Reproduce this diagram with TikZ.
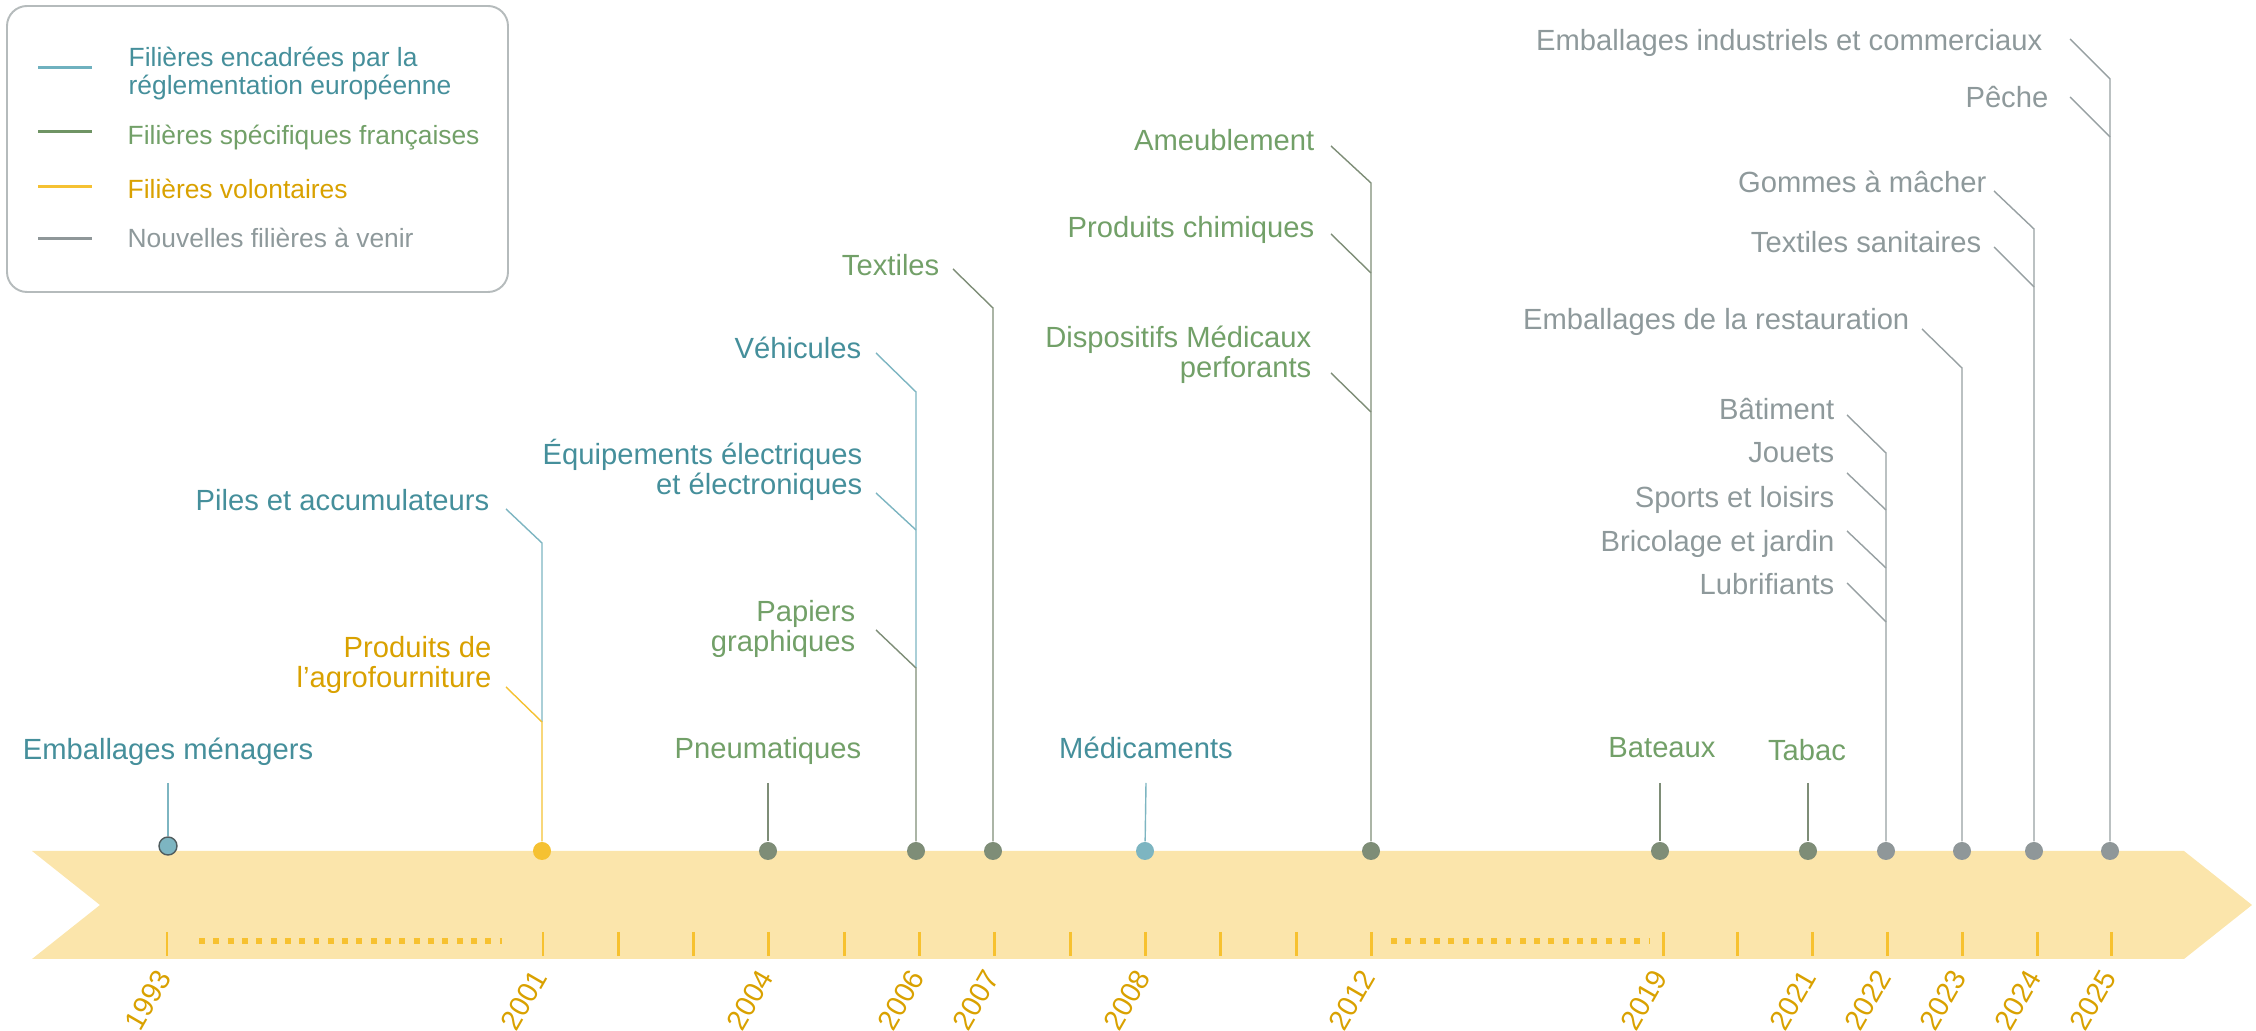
\documentclass[tikz,border=0pt]{standalone}
\usepackage{fontspec}
\setmainfont{Liberation Sans}
\usepackage{tikz}
\definecolor{euText}{HTML}{458F9B}
\definecolor{euLine}{HTML}{7DB5C1}
\definecolor{frText}{HTML}{72A068}
\definecolor{frLine}{HTML}{7E8D77}
\definecolor{volText}{HTML}{D9A100}
\definecolor{volLine}{HTML}{F5C132}
\definecolor{newText}{HTML}{8E999B}
\definecolor{newLine}{HTML}{97A0A2}
\definecolor{newDot}{HTML}{8F9799}
\definecolor{bandFill}{HTML}{FBE5AB}
\definecolor{tickCol}{HTML}{F7C12F}
\definecolor{boxCol}{HTML}{B5BBBC}
\definecolor{dotRim}{HTML}{4F5C5E}
\definecolor{legEu}{HTML}{6FB1BF}
\definecolor{legFr}{HTML}{6F9464}

\begin{document}
\begin{tikzpicture}[x=0.01cm, y=-0.01cm,
    lbl/.style={font=\fontsize{8.3}{8.8}\selectfont, inner sep=0pt, align=right},
    eulbl/.style={lbl, text=euText},
    frlbl/.style={lbl, text=frText},
    vollbl/.style={lbl, text=volText},
    newlbl/.style={lbl, text=newText},
    stem/.style={line width=0.4pt},
    eustem/.style={stem, draw=euLine},
    frstem/.style={stem, draw=frLine},
    volstem/.style={stem, draw=volLine},
    newstem/.style={stem, draw=newLine},
    dot/.style={circle, inner sep=0pt, minimum size=0.18cm},
    year/.style={font=\fontsize{8.1}{9}\selectfont, text=volText, rotate=60, anchor=east, inner sep=0pt},
    tickmark/.style={draw=tickCol, line width=0.85pt},
    gapline/.style={draw=tickCol, line width=1.7pt, dash pattern=on 1.7pt off 2.37pt},
    legtxt/.style={font=\fontsize{7.5}{8.05}\selectfont, inner sep=0pt, anchor=base west, align=left},
    legline/.style={line width=0.85pt},
]
\useasboundingbox (0,0) rectangle (2256,1031);

\draw[boxCol, line width=0.55pt, rounded corners=0.2cm] (7,6) rectangle (508,292);
\draw[legline, legEu] (38,68) -- (92,68);
\draw[legline, legFr] (38,132) -- (92,132);
\draw[legline, volLine] (38,187) -- (92,187);
\draw[legline, newDot] (38,239) -- (92,239);
\node[legtxt, text=euText] (leg-eu) at (128,95) {Filières encadrées par la\\réglementation européenne};
\node[legtxt, text=frText] (leg-fr) at (127,145) {Filières spécifiques françaises};
\node[legtxt, text=volText] (leg-vol) at (127,199) {Filières volontaires};
\node[legtxt, text=newText] (leg-new) at (127,248) {Nouvelles filières à venir};

\fill[bandFill] (32,851) -- (2184,851) -- (2252,905) -- (2184,959) -- (32,959) -- (100,905) -- cycle;
\draw[tickmark] (167,932) -- (167,956);
\foreach \i in {0,...,11} \draw[tickmark] ({543+75.3*\i},932) -- ++(0,24);
\foreach \i in {0,...,6} \draw[tickmark] ({1663+74.8*\i},932) -- ++(0,24);
\draw[gapline] (199,941) -- (502,941);
\draw[gapline] (1391,941) -- (1650,941);

\foreach \yr/\x in {1993/167, 2001/543, 2004/769, 2006/920, 2007/995, 2008/1146, 2012/1371,
    2019/1663, 2021/1812, 2022/1887, 2023/1962, 2024/2037, 2025/2112}
  \node[year] (y\yr) at ({\x-3},972) {\yr};

\node[dot, fill=euLine, draw=dotRim, line width=0.4pt] (d1993) at (168,846) {};
\node[dot, fill=volLine] (d2001) at (542,851) {};
\node[dot, fill=frLine] (d2004) at (768,851) {};
\node[dot, fill=frLine] (d2006) at (916,851) {};
\node[dot, fill=frLine] (d2007) at (993,851) {};
\node[dot, fill=euLine] (d2008) at (1145,851) {};
\node[dot, fill=frLine] (d2012) at (1371,851) {};
\node[dot, fill=frLine] (d2019) at (1660,851) {};
\node[dot, fill=frLine] (d2021) at (1808,851) {};
\node[dot, fill=newDot] (d2022) at (1886,851) {};
\node[dot, fill=newDot] (d2023) at (1962,851) {};
\node[dot, fill=newDot] (d2024) at (2034,851) {};
\node[dot, fill=newDot] (d2025) at (2110,851) {};

\node[eulbl, anchor=base] (menag) at (168,760) {Emballages ménagers};
\node[frlbl, anchor=base] (pneu) at (768,759) {Pneumatiques};
\node[eulbl, anchor=base] (medic) at (1146,759) {Médicaments};
\node[frlbl, anchor=base] (bateaux) at (1662,758) {Bateaux};
\node[frlbl, anchor=base] (tabac) at (1807,761) {Tabac};

\node[eulbl, anchor=base east] (piles) at (490,511) {Piles et accumulateurs};
\node[vollbl, anchor=base east] (agro) at (492,688) {Produits de\\l’agrofourniture};
\node[eulbl, anchor=base east] (vehic) at (862,359) {Véhicules};
\node[eulbl, anchor=base east] (equip) at (863,495) {Équipements électriques\\et électroniques};
\node[frlbl, anchor=base east] (papiers) at (856,652) {Papiers\\graphiques};
\node[frlbl, anchor=base east] (textiles) at (940,276) {Textiles};
\node[frlbl, anchor=base east] (ameub) at (1315,151) {Ameublement};
\node[frlbl, anchor=base east] (chim) at (1315,238) {Produits chimiques};
\node[frlbl, anchor=base east] (dispo) at (1312,378) {Dispositifs Médicaux\\perforants};
\node[newlbl, anchor=base east] (embind) at (2043,51) {Emballages industriels et commerciaux};
\node[newlbl, anchor=base east] (peche) at (2049,108) {Pêche};
\node[newlbl, anchor=base east] (gommes) at (1987,193) {Gommes à mâcher};
\node[newlbl, anchor=base east] (texsan) at (1982,253) {Textiles sanitaires};
\node[newlbl, anchor=base east] (embrest) at (1910,330) {Emballages de la restauration};
\node[newlbl, anchor=base east] (batim) at (1835,420) {Bâtiment};
\node[newlbl, anchor=base east] (jouets) at (1835,463) {Jouets};
\node[newlbl, anchor=base east] (sports) at (1835,508) {Sports et loisirs};
\node[newlbl, anchor=base east] (brico) at (1835,552) {Bricolage et jardin};
\node[newlbl, anchor=base east] (lubri) at (1835,595) {Lubrifiants};

\coordinate (k-piles) at (542,543);
\coordinate (k-agro) at (542,722);
\coordinate (k-vehic) at (916,392);
\coordinate (k-equip) at (916,530);
\coordinate (k-papiers) at (916,668);
\coordinate (k-textiles) at (993,308);
\coordinate (k-ameub) at (1371,183);
\coordinate (k-chim) at (1371,273);
\coordinate (k-dispo) at (1371,412);
\coordinate (k-embind) at (2110,79);
\coordinate (k-peche) at (2110,137);
\coordinate (k-gommes) at (2034,229);
\coordinate (k-texsan) at (2034,287);
\coordinate (k-embrest) at (1962,368);
\coordinate (k-batim) at (1886,453);
\coordinate (k-jouets) at (1886,510);
\coordinate (k-sports) at (1886,568);
\coordinate (k-brico) at (1886,622);

\draw[eustem] (menag.base) ++(0,23) -- (d1993);
\draw[frstem] (pneu.base) ++(0,24) -- (d2004);
\draw[eustem] (medic.base) ++(0,24) -- (d2008);
\draw[frstem] (bateaux.base) ++(-2,25) -- (d2019);
\draw[frstem] (tabac.base) ++(1,22) -- (d2021);

\draw[eustem] ([shift={(16,-2)}]piles.base east) -- (k-piles) -- (k-agro);
\draw[volstem] ([shift={(14,-1)}]agro.base east) -- (k-agro) -- (d2001);
\draw[eustem] ([shift={(14,-6)}]vehic.base east) -- (k-vehic) -- (k-papiers);
\draw[eustem] ([shift={(13,-2)}]equip.base east) -- (k-equip);
\draw[frstem] ([shift={(20,-22)}]papiers.base east) -- (k-papiers) -- (d2006);
\draw[frstem] ([shift={(13,-7)}]textiles.base east) -- (k-textiles) -- (d2007);
\draw[frstem] ([shift={(16,-5)}]ameub.base east) -- (k-ameub) -- (d2012);
\draw[frstem] ([shift={(16,-4)}]chim.base east) -- (k-chim);
\draw[frstem] ([shift={(19,-5)}]dispo.base east) -- (k-dispo);
\draw[newstem] ([shift={(27,-12)}]embind.base east) -- (k-embind) -- (d2025);
\draw[newstem] ([shift={(21,-11)}]peche.base east) -- (k-peche);
\draw[newstem] ([shift={(7,-2)}]gommes.base east) -- (k-gommes) -- (d2024);
\draw[newstem] ([shift={(12,-6)}]texsan.base east) -- (k-texsan);
\draw[newstem] ([shift={(12,-1)}]embrest.base east) -- (k-embrest) -- (d2023);
\draw[newstem] ([shift={(12,-5)}]batim.base east) -- (k-batim) -- (d2022);
\draw[newstem] ([shift={(12,10)}]jouets.base east) -- (k-jouets);
\draw[newstem] ([shift={(12,23)}]sports.base east) -- (k-sports);
\draw[newstem] ([shift={(12,31)}]brico.base east) -- (k-brico);
\end{tikzpicture}
\end{document}
